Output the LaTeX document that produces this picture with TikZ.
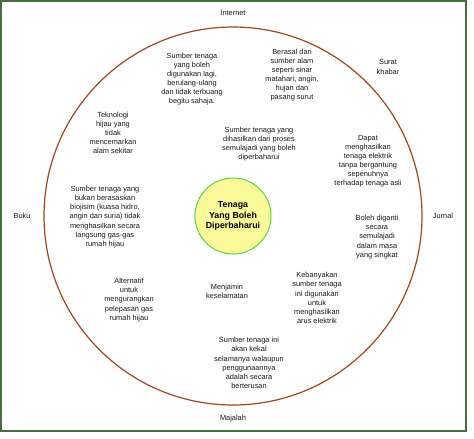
\documentclass[tikz,border=0pt]{standalone}
\usepackage{fontspec}
\setmainfont{Liberation Sans}
\definecolor{framegreen}{RGB}{70,110,62}
\definecolor{ringred}{RGB}{165,70,25}
\definecolor{coreyellow}{RGB}{250,250,155}
\definecolor{coregreen}{RGB}{90,215,60}
\definecolor{txt}{RGB}{25,25,25}
\tikzset{
  lbl/.style={align=center, inner sep=0pt, text=txt, font=\fontsize{7.4}{9.1}\selectfont},
}
\begin{document}
\begin{tikzpicture}[x=1pt,y=-1pt]
\useasboundingbox (0,0) rectangle (474,439);
\fill[white] (0,0) rectangle (474,439);
\draw[framegreen, line width=1.6pt] (1,1) rectangle (466,431);
\draw[framegreen, line width=1.2pt] (1,1.6) -- (466,1.6);
\node[draw=ringred, line width=1.2pt, circle, minimum size=378pt, inner sep=0pt] (ring) at (233,216) {};
\node[draw=coregreen, fill=coreyellow, line width=1pt, circle, minimum size=76pt, inner sep=0pt, align=center, font=\fontsize{8.8}{10.5}\selectfont\bfseries] (core) at (233,216) {Tenaga\\Yang Boleh\\Diperbaharui};

\node[lbl] (internet) at (233,13) {Internet};
\node[lbl] (surat) at (388,67) {Surat\\khabar};
\node[lbl] (jurnal) at (443,216) {Jurnal};
\node[lbl] (buku) at (22,216) {Buku};
\node[lbl] (majalah) at (233,419) {Majalah};

\node[lbl] (t1) at (192,79) {Sumber tenaga\\yang boleh\\digunakan lagi,\\berulang-ulang\\dan tidak terbuang\\begitu sahaja.};
\node[lbl] (t2) at (292,75) {Berasal dari\\sumber alam\\seperti sinar\\matahari, angin,\\hujan dan\\pasang surut};
\node[lbl] (t3) at (113,133) {Teknologi\\hijau yang\\tidak\\mencemarkan\\alam sekitar};
\node[lbl] (t4) at (259,144) {Sumber tenaga yang\\dihasilkan dari proses\\semulajadi yang boleh\\diperbaharui};
\node[lbl] (t5) at (368,161) {Dapat\\menghasilkan\\tenaga elektrik\\tanpa bergantung\\sepenuhnya\\terhadap tenaga asli};
\node[lbl] (t6) at (105,217) {Sumber tenaga yang\\bukan berasaskan\\biojisim (kuasa hidro,\\angin dan suria) tidak\\menghasilkan secara\\langsung gas-gas\\rumah hijau};
\node[lbl] (t7) at (377,237) {Boleh diganti\\secara\\semulajadi\\dalam masa\\yang singkat};
\node[lbl] (t8) at (129,300) {Alternatif\\untuk\\mengurangkan\\pelepasan gas\\rumah hijau};
\node[lbl] (t9) at (227,291) {Menjamin\\keselamatan};
\node[lbl] (t10) at (317,298) {Kebanyakan\\sumber tenaga\\ini digunakan\\untuk\\menghasilkan\\arus elektrik};
\node[lbl] (t11) at (249,363) {Sumber tenaga ini\\akan kekal\\selamanya walaupun\\penggunaannya\\adalah secara\\berterusan};
\end{tikzpicture}
\end{document}
